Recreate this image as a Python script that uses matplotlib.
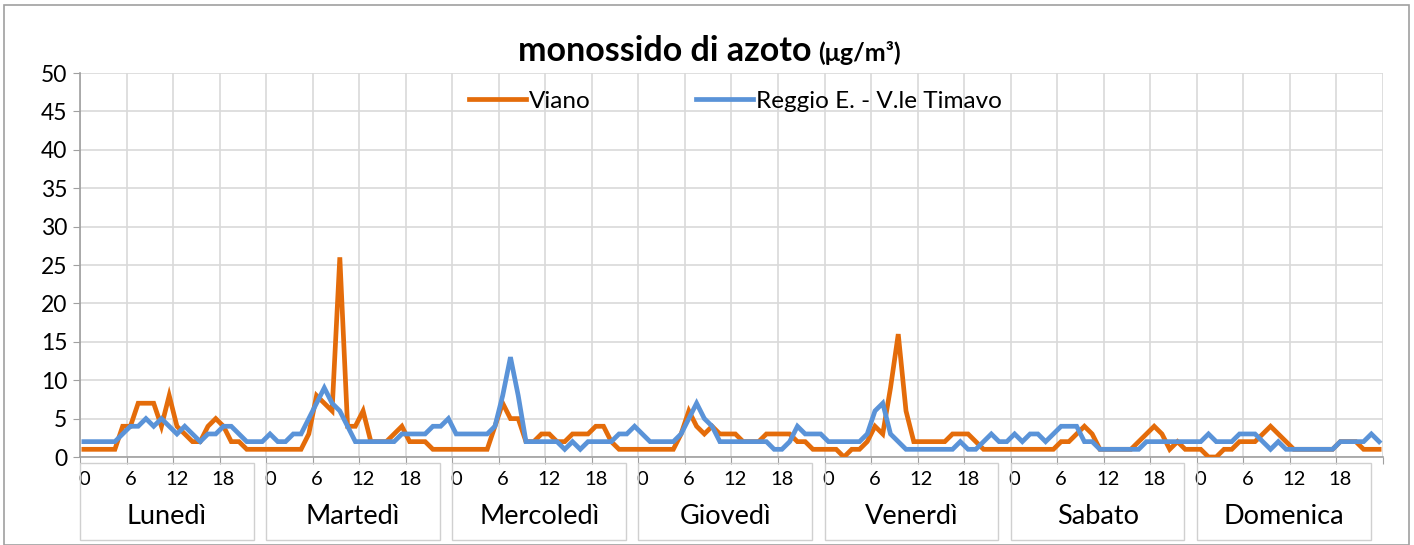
import matplotlib
matplotlib.use("Agg")
import matplotlib.pyplot as plt
import matplotlib.transforms as mtransforms
from matplotlib.patches import Rectangle
import numpy as np

plt.rcParams['font.family'] = ['Lato', 'DejaVu Sans']

days = ["Lunedì", "Martedì", "Mercoledì", "Giovedì", "Venerdì", "Sabato", "Domenica"]
hour_labels = ["0", "6", "12", "18"]
series_names = ["Viano", "Reggio E. - V.le Timavo"]

viano = [
    1, 1, 1, 1, 1, 4, 4, 7, 7, 7, 4, 8, 4, 3, 2, 2, 4, 5, 4, 2, 2, 1, 1, 1,      # Lun
    1, 1, 1, 1, 1, 3, 8, 7, 6, 26, 4, 4, 6, 2, 2, 2, 3, 4, 2, 2, 2, 1, 1, 1,     # Mar
    1, 1, 1, 1, 1, 4, 7, 5, 5, 2, 2, 3, 3, 2, 2, 3, 3, 3, 4, 4, 2, 1, 1, 1,      # Mer
    1, 1, 1, 1, 1, 3, 6, 4, 3, 4, 3, 3, 3, 2, 2, 2, 3, 3, 3, 3, 2, 2, 1, 1,      # Gio
    1, 1, 0, 1, 1, 2, 4, 3, 9, 16, 6, 2, 2, 2, 2, 2, 3, 3, 3, 2, 1, 1, 1, 1,     # Ven
    1, 1, 1, 1, 1, 1, 2, 2, 3, 4, 3, 1, 1, 1, 1, 1, 2, 3, 4, 3, 1, 2, 1, 1,      # Sab
    1, 0, 0, 1, 1, 2, 2, 2, 3, 4, 3, 2, 1, 1, 1, 1, 1, 1, 2, 2, 2, 1, 1, 1,      # Dom
]
reggio = [
    2, 2, 2, 2, 2, 3, 4, 4, 5, 4, 5, 4, 3, 4, 3, 2, 3, 3, 4, 4, 3, 2, 2, 2,      # Lun
    3, 2, 2, 3, 3, 5, 7, 9, 7, 6, 4, 2, 2, 2, 2, 2, 2, 3, 3, 3, 3, 4, 4, 5,      # Mar
    3, 3, 3, 3, 3, 4, 8, 13, 8, 2, 2, 2, 2, 2, 1, 2, 1, 2, 2, 2, 2, 3, 3, 4,     # Mer
    3, 2, 2, 2, 2, 3, 5, 7, 5, 4, 2, 2, 2, 2, 2, 2, 2, 1, 1, 2, 4, 3, 3, 3,      # Gio
    2, 2, 2, 2, 2, 3, 6, 7, 3, 2, 1, 1, 1, 1, 1, 1, 1, 2, 1, 1, 2, 3, 2, 2,      # Ven
    3, 2, 3, 3, 2, 3, 4, 4, 4, 2, 2, 1, 1, 1, 1, 1, 1, 2, 2, 2, 2, 2, 2, 2,      # Sab
    2, 3, 2, 2, 2, 3, 3, 3, 2, 1, 2, 1, 1, 1, 1, 1, 1, 1, 2, 2, 2, 2, 3, 2,      # Dom
]

W, H = 1414, 545
fig = plt.figure(figsize=(W / 100, H / 100), dpi=100)
ax = fig.add_axes([80 / W, 1 - 457 / H, 1303 / W, 384 / H])

n = len(viano)
x = np.arange(n)
orange = '#E46C0A'
blue = '#5A93D8'
l1, = ax.plot(x, viano, color=orange, lw=3.4, solid_joinstyle='miter', zorder=3)
l2, = ax.plot(x, reggio, color=blue, lw=3.4, solid_joinstyle='miter', zorder=4)

ax.set_xlim(-0.5, n - 0.5)
ax.set_ylim(0, 50)
ax.set_yticks(np.arange(0, 51, 5))
ax.tick_params(axis='y', labelsize=16.5, length=5, color='#a0a0a0', pad=4, labelcolor='black')

# major x ticks at category boundaries (gridlines), minor ticks with hour labels
bounds = np.arange(-0.5, n, 6)
ax.set_xticks(bounds)
ax.set_xticklabels([])
ax.tick_params(axis='x', which='major', length=5, color='#a0a0a0')
hour_pos = [24 * d + int(h) for d in range(len(days)) for h in hour_labels]
ax.set_xticks(hour_pos, minor=True)
ax.set_xticklabels(hour_labels * len(days), minor=True)
ax.tick_params(axis='x', which='minor', length=0, labelsize=14.5, pad=10)

ax.grid(True, which='major', color='#d9d9d9', lw=1.2, zorder=0)
ax.set_axisbelow(True)
for s in ['top', 'right']:
    ax.spines[s].set_visible(False)
for s in ['left', 'bottom']:
    ax.spines[s].set_color('#a0a0a0')
    ax.spines[s].set_linewidth(1.2)

# day category boxes
trans = mtransforms.blended_transform_factory(ax.transData, ax.transAxes)
for d, name in enumerate(days):
    left = 24 * d - 0.5
    width = 22.4
    rect = Rectangle((left, -0.215), width, 0.2, transform=trans, fill=False,
                     edgecolor='#d0d0d0', lw=1.0, clip_on=False)
    ax.add_patch(rect)
    ax.text(left + width / 2, -0.155, name, transform=trans, ha='center', va='center',
            fontsize=19.5)

# legend
leg = ax.legend([l1, l2], series_names, ncol=2, loc='center',
                bbox_to_anchor=(0.503, 0.927), frameon=False, fontsize=17.5,
                handlelength=2.35, handletextpad=0.12, columnspacing=4.3)

# title
fig.text(812 / W, 1 - 61 / H, "monossido di azoto", ha='right', va='baseline',
         fontsize=24.5, fontweight='bold')
fig.text(818 / W, 1 - 61 / H, "(μg/m³)", ha='left', va='baseline',
         fontsize=18, fontweight='bold')

# outer border
fig.patches.append(Rectangle((4 / W, 0.0), 1405 / W, 1 - 5 / H, transform=fig.transFigure,
                             fill=False, edgecolor='#a0a0a0', lw=1.2))

fig.savefig("out.png", dpi=100)
